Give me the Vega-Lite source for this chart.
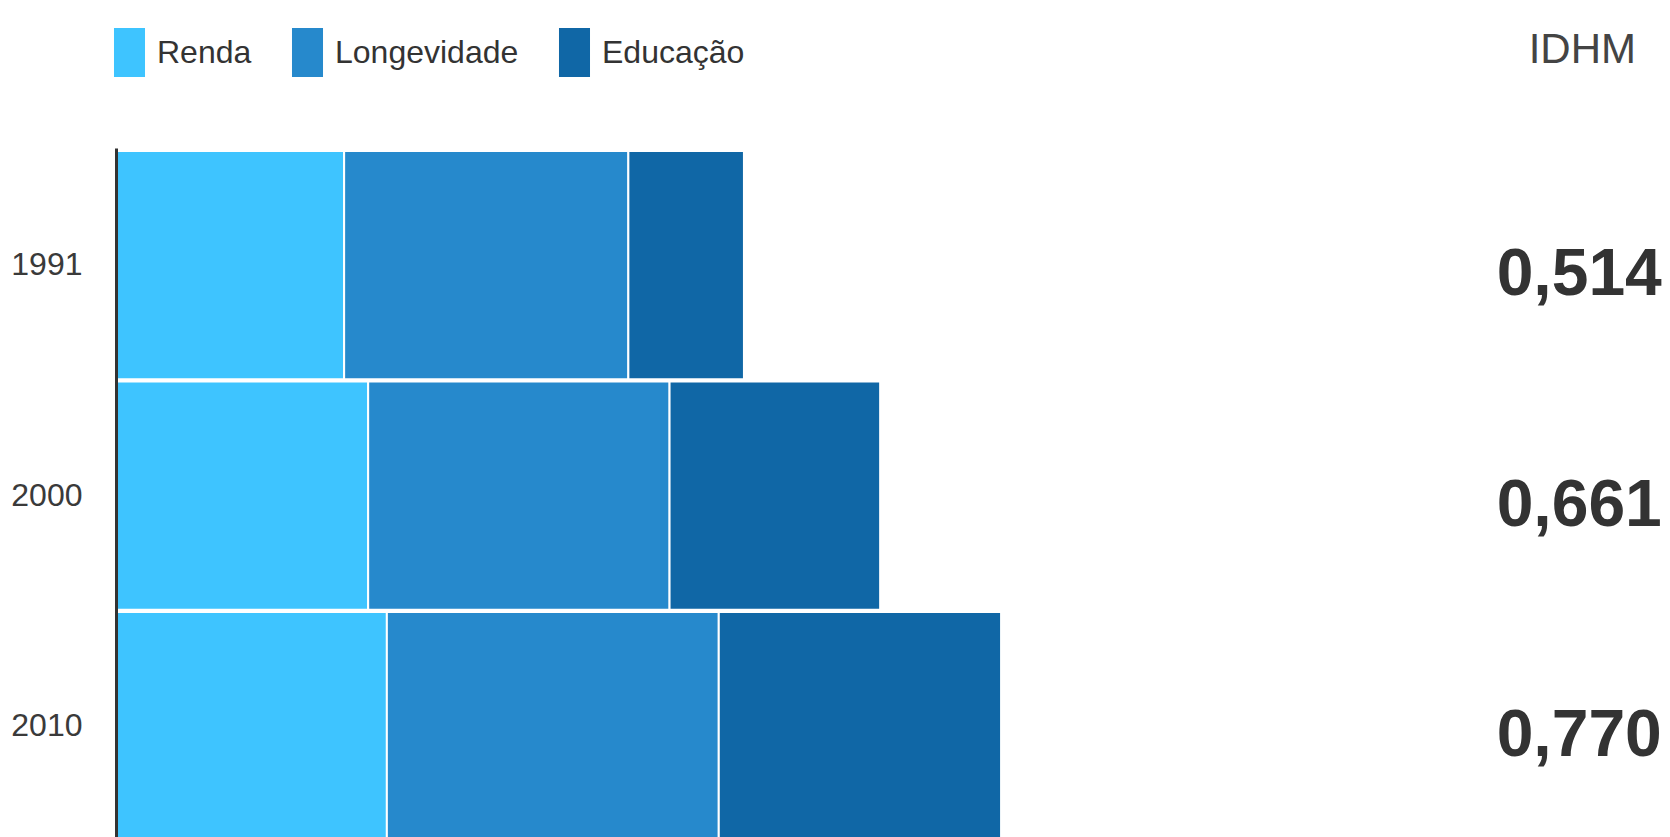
{
  "$schema": "https://vega.github.io/schema/vega-lite/v6.json",
  "autosize": {"type": "none"},
  "padding": {"left": 116, "top": 148, "right": 0, "bottom": 0},
  "width": 1554,
  "height": 689,
  "background": "#ffffff",
  "title": {
    "text": "IDHM",
    "anchor": "end",
    "frame": "group",
    "font": "Liberation Sans",
    "fontSize": 42,
    "fontWeight": "normal",
    "color": "#444444",
    "baseline": "alphabetic",
    "offset": 86,
    "dy": 163,
    "dx": -34
  },
  "config": {
    "view": {"stroke": null},
    "locale": {"number": {"decimal": ",", "thousands": ".", "grouping": [3], "currency": ["R$", ""]}}
  },
  "datasets": {
    "componentes": [
      {"ano": "1991", "componente": "Renda", "indice": 0.598},
      {"ano": "1991", "componente": "Longevidade", "indice": 0.745},
      {"ano": "1991", "componente": "Educação", "indice": 0.303},
      {"ano": "2000", "componente": "Renda", "indice": 0.661},
      {"ano": "2000", "componente": "Longevidade", "indice": 0.790},
      {"ano": "2000", "componente": "Educação", "indice": 0.552},
      {"ano": "2010", "componente": "Renda", "indice": 0.710},
      {"ano": "2010", "componente": "Longevidade", "indice": 0.870},
      {"ano": "2010", "componente": "Educação", "indice": 0.740}
    ],
    "idhm": [
      {"ano": "1991", "idhm": 0.514},
      {"ano": "2000", "idhm": 0.661},
      {"ano": "2010", "idhm": 0.770}
    ]
  },
  "encoding": {
    "y": {
      "field": "ano",
      "type": "nominal",
      "sort": ["1991", "2000", "2010"],
      "scale": {"range": [0, 695.2], "paddingInner": 0.01, "paddingOuter": 0.013},
      "axis": {
        "title": null,
        "ticks": false,
        "zindex": 1,
        "domainColor": "#333333",
        "domainWidth": 3,
        "labelFont": "Liberation Sans",
        "labelFontSize": 32,
        "labelColor": "#3a3a3a",
        "labelPadding": 34,
        "labelAngle": 0
      }
    }
  },
  "layer": [
    {
      "data": {"name": "componentes"},
      "mark": {"type": "bar", "stroke": "#ffffff", "strokeWidth": 2, "opacity": 1},
      "encoding": {
        "x": {
          "field": "indice",
          "type": "quantitative",
          "stack": "zero",
          "scale": {"domain": [0, 4.0734], "nice": false, "zero": true},
          "axis": null
        },
        "order": {"field": "componente", "type": "nominal", "sort": "descending"},
        "color": {
          "field": "componente",
          "type": "nominal",
          "sort": ["Renda", "Longevidade", "Educação"],
          "scale": {
            "domain": ["Renda", "Longevidade", "Educação"],
            "range": ["#3ec4ff", "#2689cc", "#1067a6"]
          },
          "legend": {
            "title": null,
            "orient": "none",
            "direction": "horizontal",
            "legendX": -11,
            "legendY": -120,
            "padding": 0,
            "symbolType": "M-0.633,-1H0.633V1H-0.633Z",
            "symbolSize": 2401,
            "symbolStrokeWidth": 0,
            "symbolOpacity": 1,
            "labelFont": "Liberation Sans",
            "labelFontSize": 32,
            "labelColor": "#333333",
            "labelOffset": 3,
            "columnPadding": 31,
            "labelLimit": 400
          }
        }
      }
    },
    {
      "data": {"name": "idhm"},
      "mark": {
        "type": "text",
        "align": "right",
        "baseline": "middle",
        "font": "Liberation Sans",
        "fontSize": 66,
        "fontWeight": "bold",
        "color": "#333333",
        "dy": 10
      },
      "encoding": {
        "x": {"datum": 4.052, "type": "quantitative"},
        "text": {"field": "idhm", "type": "quantitative", "format": ".3f"}
      }
    }
  ]
}
